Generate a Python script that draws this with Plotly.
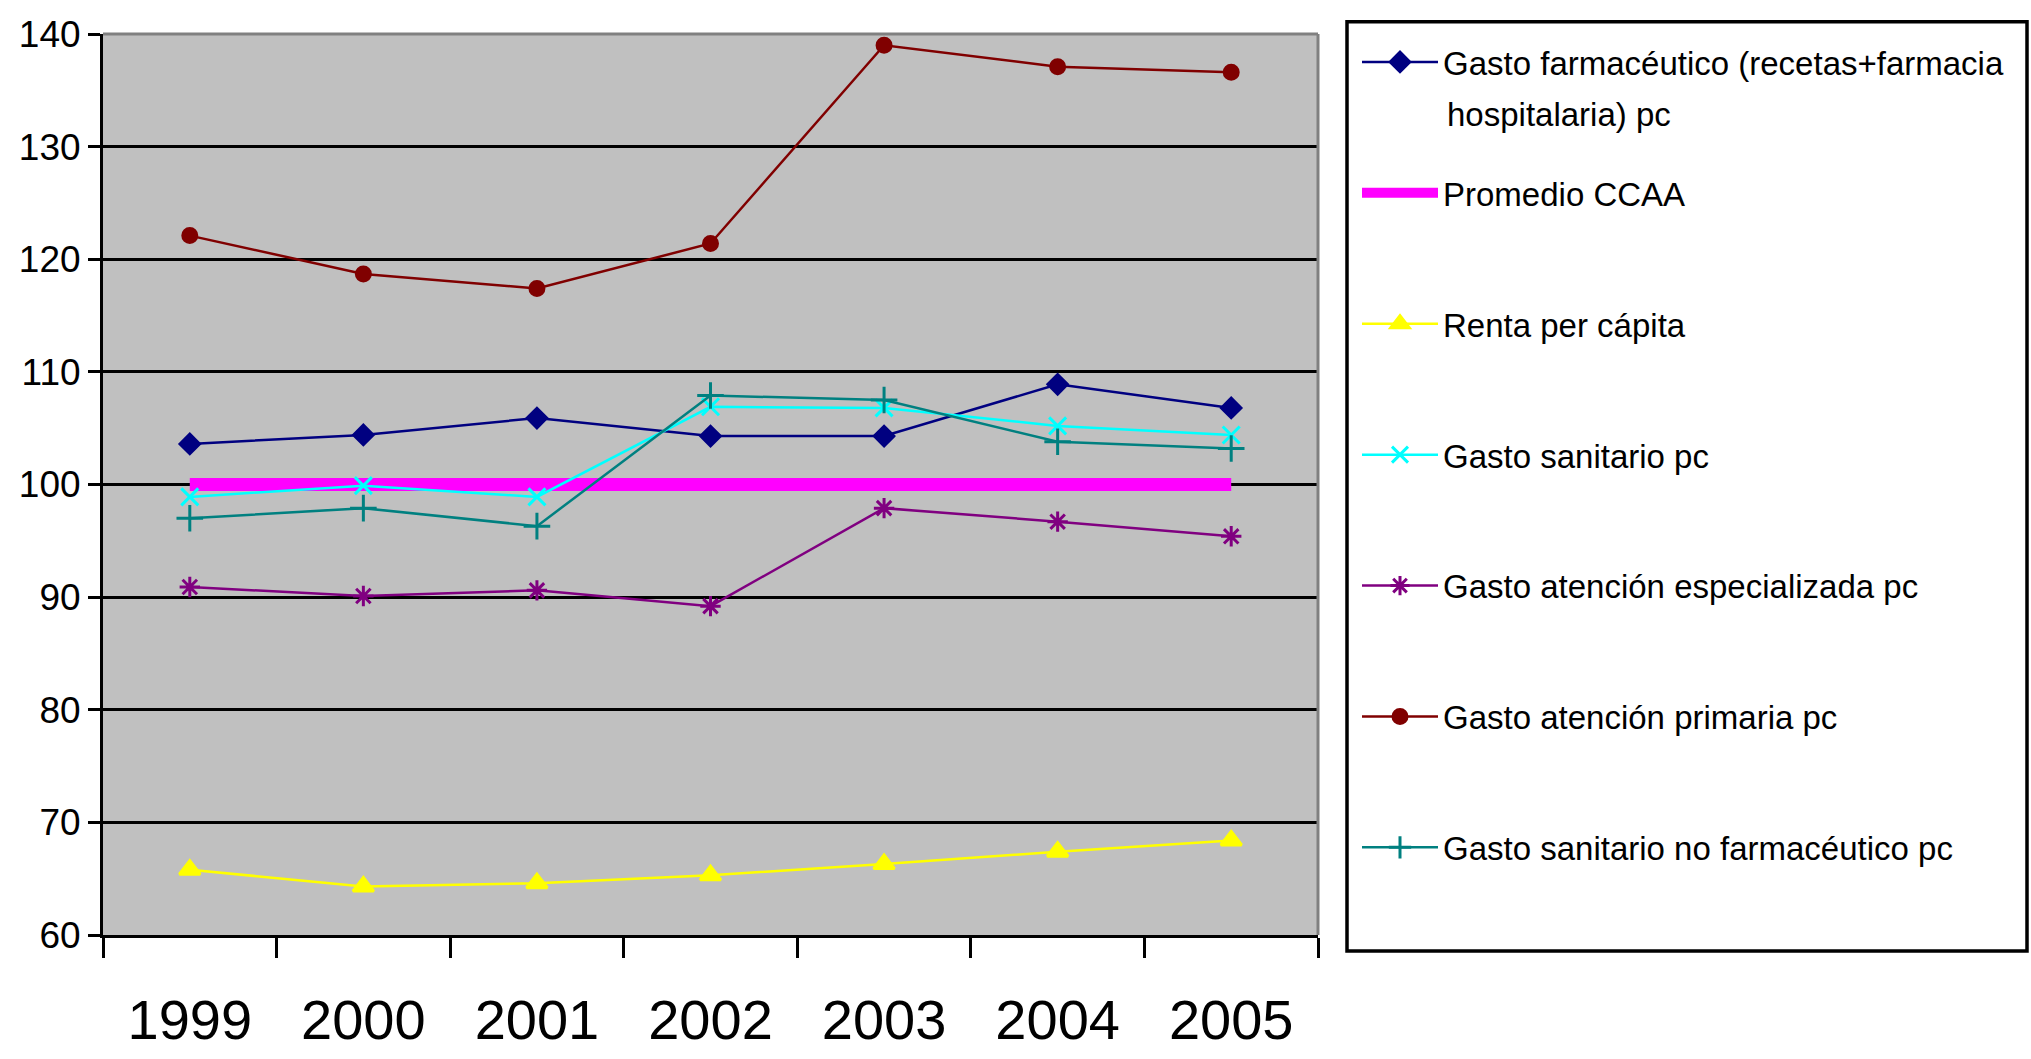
import plotly.graph_objects as go

years = ["1999", "2000", "2001", "2002", "2003", "2004", "2005"]

farmaceutico = [103.6, 104.4, 105.9, 104.3, 104.3, 108.9, 106.8]
promedio = [100, 100, 100, 100, 100, 100, 100]
renta = [65.8, 64.3, 64.6, 65.3, 66.3, 67.4, 68.4]
sanitario = [98.9, 99.9, 98.9, 106.9, 106.8, 105.2, 104.4]
especializada = [90.9, 90.1, 90.6, 89.2, 97.9, 96.7, 95.4]
primaria = [122.1, 118.7, 117.4, 121.4, 139.0, 137.1, 136.6]
no_farmaceutico = [97.0, 97.9, 96.3, 107.9, 107.5, 103.8, 103.2]

names = [
    "Gasto farmacéutico (recetas+farmacia",
    "Promedio CCAA",
    "Renta per cápita",
    "Gasto sanitario pc",
    "Gasto atención especializada pc",
    "Gasto atención primaria pc",
    "Gasto sanitario no farmacéutico pc",
]
name_continuation = "hospitalaria) pc"

series = [farmaceutico, promedio, renta, sanitario, especializada, primaria, no_farmaceutico]
colors = ["#000080", "#FF00FF", "#FFFF00", "#00FFFF", "#800080", "#800000", "#008080"]
symbols = ["diamond", None, "triangle-up", "x-thin-open", "asterisk-open", "circle", "cross-thin-open"]
sizes = [15, 0, 18, 17, 17, 14, 19]
widths = [2.5, 13, 2.5, 2.5, 2.5, 2.5, 2.5]

fig = go.Figure()
for i, (nm, ys) in enumerate(zip(names, series)):
    if symbols[i] is None:
        fig.add_trace(go.Scatter(
            x=years, y=ys, name=nm, mode="lines",
            line=dict(color=colors[i], width=widths[i]),
            legendgroup=f"g{i}",
        ))
    else:
        fig.add_trace(go.Scatter(
            x=years, y=ys, name=nm, mode="lines+markers",
            line=dict(color=colors[i], width=widths[i]),
            marker=dict(symbol=symbols[i], size=sizes[i], color=colors[i],
                        line=dict(color=colors[i], width=3)),
            legendgroup=f"g{i}",
        ))

font_family = "Liberation Sans, Arial, sans-serif"
L, R, T, B = 103, 713, 34, 124
W, H = 2031, 1059
pw, ph = W - L - R, H - T - B

def px_x(x):
    return (x - L) / pw

def px_y(y):
    return (H - B - y) / ph

fig.update_layout(
    width=W, height=H,
    margin=dict(l=L, r=R, t=T, b=B, autoexpand=False),
    paper_bgcolor="white",
    plot_bgcolor="#C0C0C0",
    font=dict(family=font_family, color="black"),
    showlegend=True,
    legend=dict(
        x=px_x(1357), y=px_y(34), xanchor="left", yanchor="top",
        borderwidth=0, bgcolor="rgba(0,0,0,0)",
        font=dict(size=33, family=font_family, color="black"),
        tracegroupgap=85, itemwidth=76, valign="middle",
        maxheight=1050,
    ),
    xaxis=dict(
        type="category", range=[-0.5, 6.5],
        showgrid=False, showline=True, linecolor="black", linewidth=3,
        ticks="outside", tickson="boundaries", ticklen=20, tickwidth=3, tickcolor="black",
        tickfont=dict(size=56, family=font_family, color="black"),
        ticklabelstandoff=34,
        zeroline=False,
    ),
    yaxis=dict(
        range=[60, 140], dtick=10, tick0=60,
        showgrid=True, gridcolor="black", gridwidth=3,
        showline=True, linecolor="black", linewidth=3,
        ticks="outside", ticklen=12, tickwidth=3, tickcolor="black",
        tickfont=dict(size=37, family=font_family, color="black"),
        zeroline=False,
    ),
    shapes=[
        dict(type="line", xref="paper", yref="paper", x0=0, x1=1, y0=1, y1=1,
             line=dict(color="#808080", width=3), layer="above"),
        dict(type="line", xref="paper", yref="paper", x0=1, x1=1, y0=0, y1=1,
             line=dict(color="#808080", width=3), layer="above"),
        dict(type="rect", xref="paper", yref="paper",
             x0=px_x(1347), x1=px_x(2027), y0=px_y(951), y1=px_y(21.7),
             line=dict(color="black", width=3.5), fillcolor="rgba(0,0,0,0)", layer="above"),
    ],
    annotations=[
        dict(text=name_continuation, xref="paper", yref="paper",
             x=px_x(1445), y=px_y(114), xanchor="left", yanchor="middle",
             showarrow=False, font=dict(size=33, family=font_family, color="black")),
    ],
)

fig.write_html("out.html")
